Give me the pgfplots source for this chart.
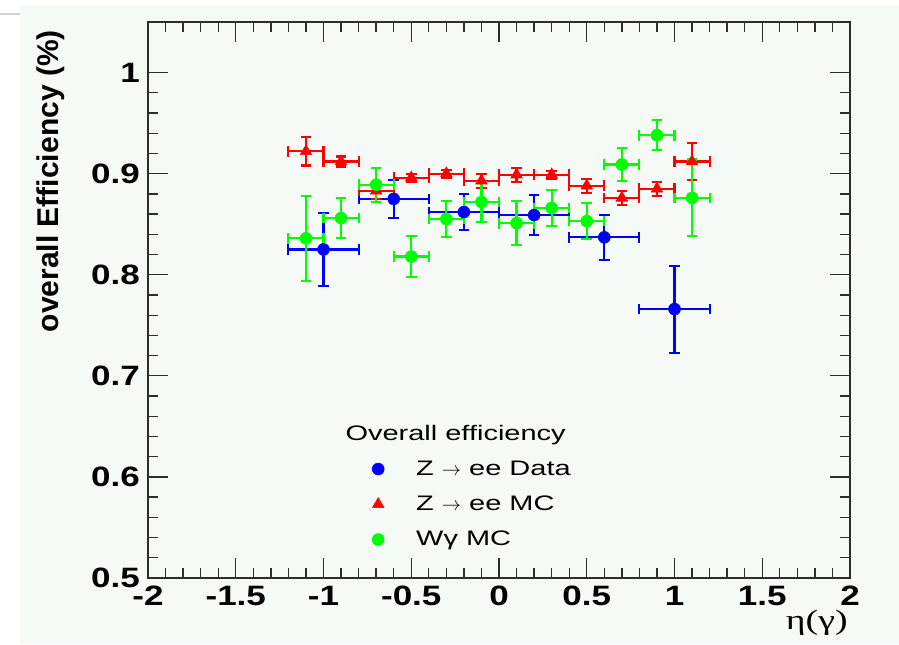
\documentclass[border=0pt]{standalone}
\usepackage{fontspec}
\setmainfont{Liberation Sans}
\newfontfamily\tickfont[FakeStretch=1.25]{Liberation Sans}
\newfontfamily\legfont[FakeStretch=1.38]{Liberation Sans}
\newfontfamily\serifst[FakeStretch=1.35]{Liberation Serif}
\usepackage{pgfplots}
\pgfplotsset{compat=1.18}
\usepackage{pgfplotstable}
\definecolor{bgc}{RGB}{246,250,247}
\definecolor{axc}{RGB}{45,45,45}

\pgfplotstableread{
x y ex ey
-1.0 0.825 0.2 0.036
-0.6 0.875 0.2 0.019
-0.2 0.862 0.2 0.018
0.2 0.859 0.2 0.020
0.6 0.837 0.2 0.022
1.0 0.766 0.2 0.043
}\zdata

\pgfplotstableread{
x y ex ey
-1.1 0.922 0.1 0.014
-0.9 0.912 0.1 0.005
-0.7 0.883 0.1 0.008
-0.5 0.896 0.1 0.004
-0.3 0.900 0.1 0.004
-0.1 0.893 0.1 0.007
0.1 0.899 0.1 0.007
0.3 0.899 0.1 0.004
0.5 0.888 0.1 0.007
0.7 0.876 0.1 0.007
0.9 0.885 0.1 0.007
1.1 0.912 0.1 0.018
}\zmc

\pgfplotstableread{
x y ex ey
-1.1 0.836 0.1 0.042
-0.9 0.856 0.1 0.020
-0.7 0.889 0.1 0.017
-0.5 0.818 0.1 0.020
-0.3 0.855 0.1 0.018
-0.1 0.872 0.1 0.020
0.1 0.851 0.1 0.022
0.3 0.866 0.1 0.018
0.5 0.853 0.1 0.018
0.7 0.909 0.1 0.016
0.9 0.938 0.1 0.015
1.1 0.876 0.1 0.038
}\wmc

\begin{document}
\begin{tikzpicture}
\path[use as bounding box] (0,0) rectangle (674.25pt,483pt);
\fill[bgc] (15pt,0) rectangle (674.25pt,479.25pt);
\draw[gray!35, line width=2pt] (0,472.5pt) -- (15pt,472.5pt);
\begin{axis}[
  at={(111pt,49.5pt)}, anchor=south west,
  scale only axis, width=526.5pt, height=417pt,
  xmin=-2, xmax=2, ymin=0.5, ymax=1.05,
  xtick={-2,-1.5,-1,-0.5,0,0.5,1,1.5,2},
  xticklabels={-2,-1.5,-1,-0.5,0,0.5,1,1.5,2},
  ytick={0.5,0.6,0.7,0.8,0.9,1.0},
  yticklabels={0.5,0.6,0.7,0.8,0.9,1},
  minor x tick num=4, minor y tick num=4,
  tick pos=both, tick align=inside,
  major tick length=15pt, minor tick length=7.5pt,
  axis line style={axc, line width=1.2pt},
  tick style={axc, line width=1pt},
  /pgf/number format/assume math mode=true,
  xticklabel style={font=\tickfont\bfseries\fontsize{21}{21}\selectfont, inner sep=0pt, yshift=-6pt},
  yticklabel style={font=\tickfont\bfseries\fontsize{21}{21}\selectfont, inner sep=0pt, xshift=-6pt},
  ylabel={overall Efficiency (\%)},
  ylabel style={font=\bfseries\fontsize{22.5}{22.5}\selectfont, inner sep=0pt, at={(axis description cs:-0.118,0.9856)}, anchor=south east},
  xlabel={\serifst η(γ)},
  xlabel style={font=\fontsize{21}{21}\selectfont, inner sep=0pt, at={(axis description cs:0.997,-0.0576)}, anchor=north east},
  legend image code/.code={\draw[#1] plot coordinates {(0pt,0pt)};},
  legend style={at={(axis description cs:0.319,0.2806)}, anchor=north west, draw=none, fill=none,
    font=\legfont\fontsize{15.75}{18}\selectfont, row sep=10pt, inner sep=0pt,
    /tikz/every odd column/.append style={column sep=22pt}},
  legend cell align=left,
]
\addlegendimage{empty legend}
\addlegendentry{\hspace{-53pt}Overall efficiency}

\addplot[only marks, mark=*, blue, mark size=4.5pt,
  error bars/.cd, x dir=both, x explicit, y dir=both, y explicit,
  error bar style={line width=1.6pt},
  error mark options={rotate=90, line width=1.6pt, mark size=4pt, blue}]
  table[x=x, y=y, x error=ex, y error=ey]{\zdata};
\addlegendentry{Z $\rightarrow$ ee Data}

\addplot[only marks, mark=triangle*, red, mark size=5pt,
  error bars/.cd, x dir=both, x explicit, y dir=both, y explicit,
  error bar style={line width=1.6pt},
  error mark options={rotate=90, line width=1.6pt, mark size=4pt, red}]
  table[x=x, y=y, x error=ex, y error=ey]{\zmc};
\addlegendentry{Z $\rightarrow$ ee MC}

\addplot[only marks, mark=*, green, mark size=4.5pt,
  error bars/.cd, x dir=both, x explicit, y dir=both, y explicit,
  error bar style={line width=1.6pt},
  error mark options={rotate=90, line width=1.6pt, mark size=4pt, green}]
  table[x=x, y=y, x error=ex, y error=ey]{\wmc};
\addlegendentry{Wγ MC}
\end{axis}
\end{tikzpicture}
\end{document}
